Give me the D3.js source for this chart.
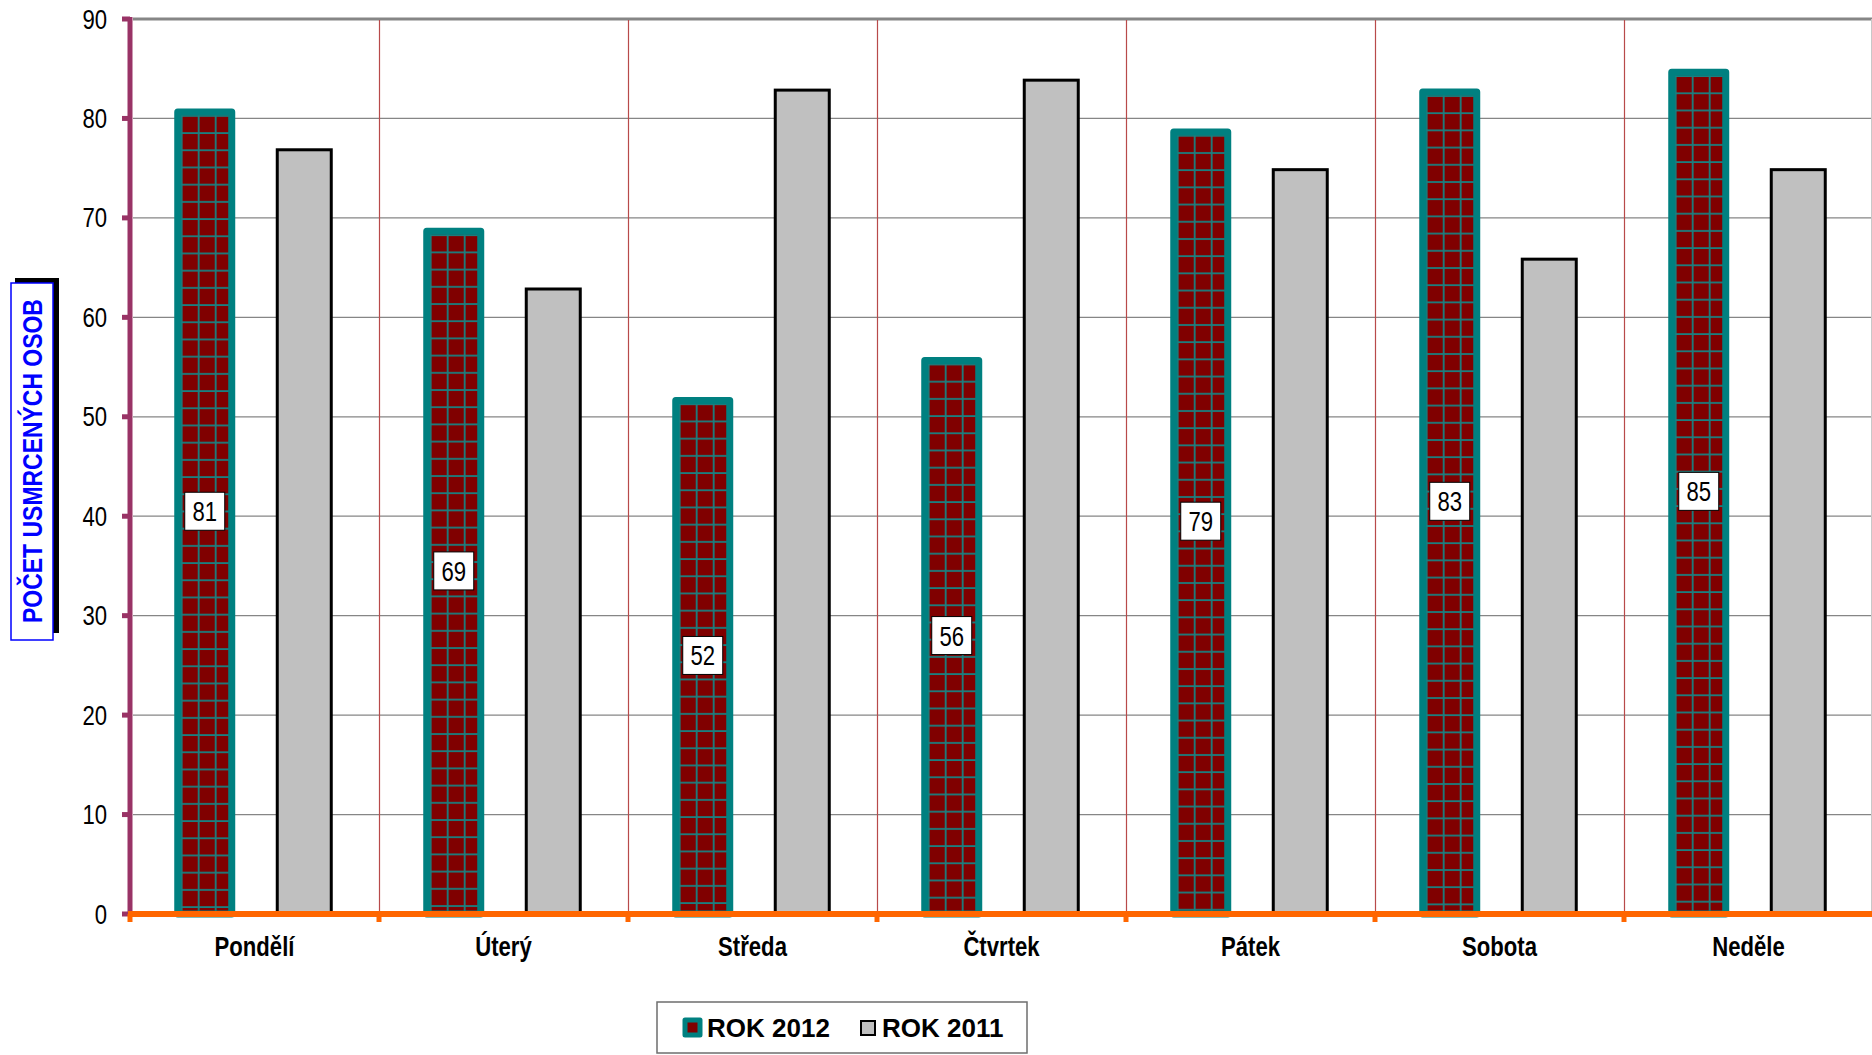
<!DOCTYPE html>
<html><head><meta charset="utf-8">
<script src="https://cdn.jsdelivr.net/npm/d3@7"></script>
<style>
html,body{margin:0;padding:0;background:#fff;}
svg{display:block;}
.narrow{font-family:"Liberation Sans",Arial,sans-serif;}
</style></head>
<body>
<svg id="chart" width="1872" height="1055"></svg>
<script>
const categories = ["Pondělí","Úterý","Středa","Čtvrtek","Pátek","Sobota","Neděle"];
const values2012 = [81,69,52,56,79,83,85];
const values2011 = [77,63,83,84,75,66,75];
const seriesNames = ["ROK 2012","ROK 2011"];
const yTicks = [0,10,20,30,40,50,60,70,80,90];
const yTitle = "POČET USMRCENÝCH OSOB";

const svg = d3.select("#chart");
const L = 130, R = 1873, T = 19, B = 914;
const NS = 0.82; // horizontal condensing of text
const x = d3.scaleBand().domain(categories).range([L,R]).padding(0);
const xs = d3.scalePoint().domain(seriesNames).range([0,x.bandwidth()]).padding(0.751);
const y = d3.scaleLinear().domain([0,90]).range([B,T]);
const barW = 54;

const defs = svg.append("defs");

// gridlines
svg.append("g").selectAll("line").data(yTicks.filter(d=>d>0)).join("line")
  .attr("x1",L+3).attr("x2",R).attr("y1",d=>y(d)).attr("y2",d=>y(d))
  .attr("stroke","#868686").attr("stroke-width",d=>d===90?3:1.2);
svg.append("line").attr("x1",1871.5).attr("x2",1871.5).attr("y1",T).attr("y2",B).attr("stroke","#c8c8c8").attr("stroke-width",1);
svg.append("g").selectAll("line").data(categories.slice(1)).join("line")
  .attr("x1",d=>Math.round(x(d))+0.5).attr("x2",d=>Math.round(x(d))+0.5).attr("y1",T+1).attr("y2",B)
  .attr("stroke","#b84a4a").attr("stroke-width",1.2);

const rows2012 = categories.map((c,i)=>({c,i,v:values2012[i]}));
rows2012.forEach(d=>{
  const bx = x(d.c)+xs("ROK 2012")-barW/2, by = y(d.v)+3.5;
  const p = defs.append("pattern").attr("id","pat"+d.i).attr("patternUnits","userSpaceOnUse")
    .attr("x",bx).attr("y",by).attr("width",17).attr("height",17.2);
  p.append("rect").attr("width",17).attr("height",17.2).attr("fill","#800000");
  p.append("rect").attr("x",3).attr("y",0).attr("width",1.8).attr("height",17.2).attr("fill","#1a8080");
  p.append("rect").attr("x",0).attr("y",3).attr("width",17).attr("height",1.8).attr("fill","#1a8080");
});

svg.append("g").selectAll("rect").data(rows2012).join("rect")
  .attr("x",d=>x(d.c)+xs("ROK 2012")-barW/2)
  .attr("y",d=>y(d.v)+3.5)
  .attr("width",barW)
  .attr("height",d=>B-y(d.v)-3.5)
  .attr("fill",d=>"url(#pat"+d.i+")")
  .attr("stroke","#008080").attr("stroke-width",7).attr("stroke-linejoin","round");

const rows2011 = categories.map((c,i)=>({c,i,v:values2011[i]}));
svg.append("g").selectAll("rect").data(rows2011).join("rect")
  .attr("x",d=>x(d.c)+xs("ROK 2011")-barW/2)
  .attr("y",d=>y(d.v)+1.5)
  .attr("width",barW)
  .attr("height",d=>B-y(d.v)-1.5)
  .attr("fill","#c0c0c0")
  .attr("stroke","#000").attr("stroke-width",3);

const lab = svg.append("g").selectAll("g").data(rows2012).join("g")
  .attr("transform",d=>`translate(${x(d.c)+xs("ROK 2012")},${(y(d.v)+B)/2})`);
lab.append("rect").attr("x",-20).attr("y",-19).attr("width",40).attr("height",38)
  .attr("fill","#fff").attr("stroke","#000").attr("stroke-width",1);
lab.append("text").attr("class","narrow").attr("text-anchor","middle")
  .attr("transform",`translate(0,10) scale(${NS},1)`)
  .attr("font-size",27).attr("fill","#000").text(d=>d.v);

// y axis
svg.append("line").attr("x1",L).attr("x2",L).attr("y1",T-2).attr("y2",B).attr("stroke","#993366").attr("stroke-width",5);
svg.append("g").selectAll("line").data(yTicks).join("line")
  .attr("x1",L-8).attr("x2",L).attr("y1",d=>y(d)).attr("y2",d=>y(d))
  .attr("stroke","#993366").attr("stroke-width",5);
svg.append("g").selectAll("text").data(yTicks).join("text")
  .attr("class","narrow").attr("transform",d=>`translate(107,${y(d)+9.5}) scale(${NS},1)`)
  .attr("text-anchor","end").attr("font-size",27).attr("fill","#000").text(d=>d);

// x axis
svg.append("line").attr("x1",L-2).attr("x2",R).attr("y1",B).attr("y2",B).attr("stroke","#ff6600").attr("stroke-width",6);
svg.append("g").selectAll("line").data(d3.range(categories.length)).join("line")
  .attr("x1",i=>L+i*x.step()).attr("x2",i=>L+i*x.step()).attr("y1",B).attr("y2",B+8)
  .attr("stroke","#ff6600").attr("stroke-width",5);
svg.append("g").selectAll("text").data(categories).join("text")
  .attr("class","narrow").attr("transform",d=>`translate(${x(d)+x.bandwidth()/2},956) scale(${NS},1)`)
  .attr("text-anchor","middle").attr("font-size",27).attr("font-weight","bold").attr("fill","#000").text(d=>d);

// y title
svg.append("rect").attr("x",15).attr("y",278).attr("width",44).attr("height",355).attr("fill","#000");
svg.append("rect").attr("x",11).attr("y",283).attr("width",42).attr("height",357).attr("fill","#fff").attr("stroke","#0000ff").attr("stroke-width",1.5);
svg.append("text").attr("class","narrow").attr("transform",`translate(42,461) rotate(-90) scale(${NS},1)`)
  .attr("text-anchor","middle").attr("font-size",28).attr("font-weight","bold").attr("fill","#0000ff").text(yTitle);

// legend
const lg = svg.append("g");
lg.append("rect").attr("x",657).attr("y",1002).attr("width",370).attr("height",51).attr("fill","#fff").attr("stroke","#6e6e6e").attr("stroke-width",1.5);
lg.append("rect").attr("x",685).attr("y",1020).attr("width",15).attr("height",15).attr("fill","#800000").attr("stroke","#008080").attr("stroke-width",5).attr("stroke-linejoin","round");
lg.append("text").attr("x",707).attr("y",1037).attr("font-family","'Liberation Sans',Arial,sans-serif").attr("font-size",26).attr("font-weight","bold").text(seriesNames[0]);
lg.append("rect").attr("x",861).attr("y",1021).attr("width",14).attr("height",14).attr("fill","#c0c0c0").attr("stroke","#000").attr("stroke-width",2);
lg.append("text").attr("x",882).attr("y",1037).attr("font-family","'Liberation Sans',Arial,sans-serif").attr("font-size",26).attr("font-weight","bold").text(seriesNames[1]);
</script>
</body></html>
